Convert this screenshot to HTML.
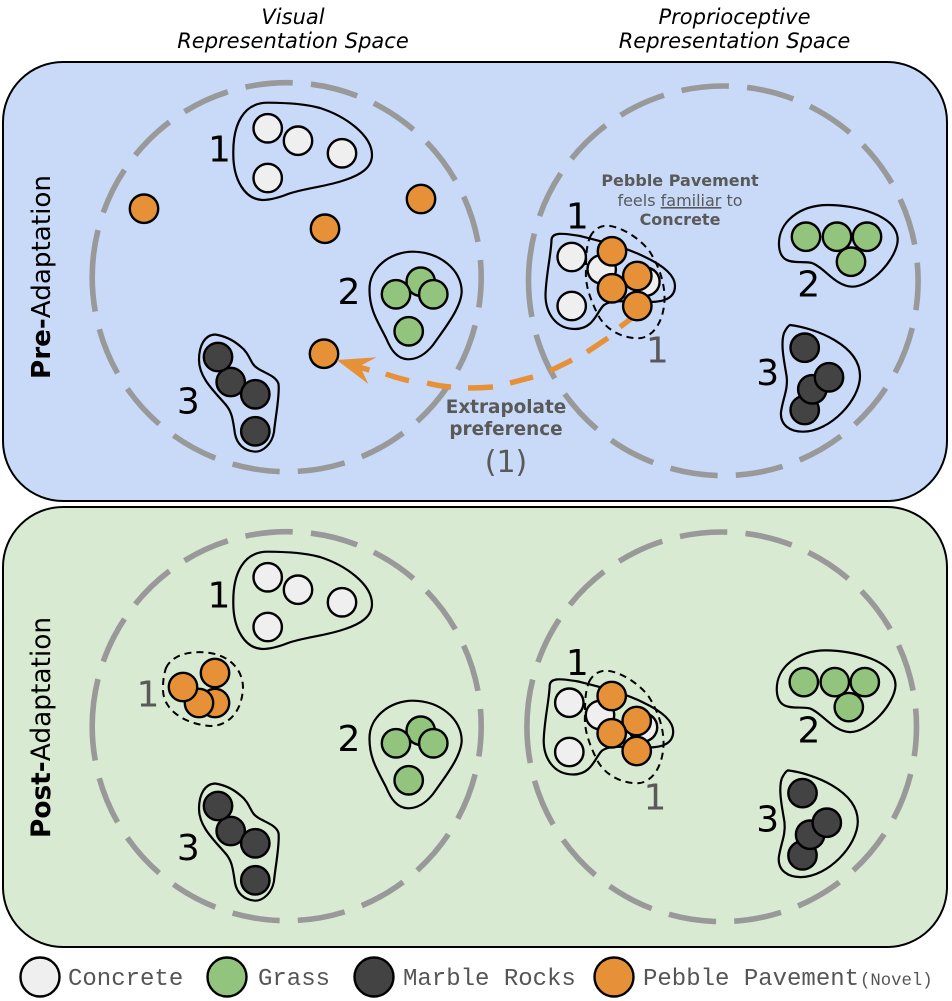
<!DOCTYPE html>
<html>
<head>
<meta charset="utf-8">
<style>
html,body{margin:0;padding:0;background:#fff;}
svg{display:block;}
text{font-family:"DejaVu Sans",sans-serif;}
.n{font-size:36px;text-anchor:middle;fill:#000;}
.g{font-size:36px;text-anchor:middle;fill:#595959;}
.t{font-size:21px;font-style:italic;text-anchor:middle;fill:#000;}
.b{font-size:16px;font-weight:bold;text-anchor:middle;fill:#595959;}
.e{font-size:18.4px;font-weight:bold;text-anchor:middle;fill:#595959;}
.f{font-size:16px;text-anchor:middle;fill:#595959;}
.l{font-family:"Liberation Mono",monospace;font-size:24px;fill:#555;}
.w{fill:#efefef;stroke:#000;stroke-width:2.4;}
.gr{fill:#93c47d;stroke:#000;stroke-width:2.4;}
.d{fill:#434343;stroke:#000;stroke-width:2.4;}
.o{fill:#e69138;stroke:#000;stroke-width:2.4;}
.blob{fill:none;stroke:#000;stroke-width:2.2;}
.dash{fill:none;stroke:#000;stroke-width:2;stroke-dasharray:7 5;}
.ring{fill:none;stroke:#999;stroke-width:5.6;stroke-dasharray:47.7 18.25;}
.ar{stroke:#e69138;stroke-width:5.4;fill:none;}
</style>
</head>
<body>
<svg width="952" height="1001" viewBox="0 0 952 1001" xmlns="http://www.w3.org/2000/svg">
<rect width="952" height="1001" fill="#fff"/>
<rect x="3" y="62" width="944" height="439" rx="60" ry="60" fill="#c9daf8" stroke="#000" stroke-width="2"/>
<rect x="3" y="507" width="944" height="440" rx="60" ry="60" fill="#d9ead3" stroke="#000" stroke-width="2"/>

<text class="t" x="293" y="24">Visual</text>
<text class="t" x="293" y="48">Representation Space</text>
<text class="t" x="734.5" y="24">Proprioceptive</text>
<text class="t" x="734.5" y="48">Representation Space</text>

<text transform="translate(50,379) rotate(-90)" font-size="26.2" fill="#000"><tspan font-weight="bold">Pre-</tspan>Adaptation</text>
<text transform="translate(50,838) rotate(-90)" font-size="26.4" fill="#000"><tspan font-weight="bold">Post-</tspan>Adaptation</text>

<path class="ring" d="M92.2,277.2 A194.5,194.5 0 1 1 481.2,277.2 A194.5,194.5 0 1 1 92.2,277.2"/>
<path class="ring" d="M528.5,280.8 A194.8,194.8 0 1 1 918.1,280.8 A194.8,194.8 0 1 1 528.5,280.8"/>
<path class="ring" d="M92.2,726.2 A194.5,194.5 0 1 1 481.2,726.2 A194.5,194.5 0 1 1 92.2,726.2"/>
<path class="ring" d="M526.9,726.8 A194.8,194.8 0 1 1 916.5,726.8 A194.8,194.8 0 1 1 526.9,726.8"/>

<!-- Top left -->
<path class="blob" d="M233.3,153 C233,125 243,102.5 268,102.7 C290,103 305,104 320,108 C345,116 372,135 372,155 C372,168 360,175 345,180 C325,187 305,188 288,194 C278,198 270,200 262,200 C245,199 233,180 233.3,153 Z"/>
<circle class="w" cx="267.7" cy="128.3" r="14.2"/><circle class="w" cx="298" cy="140.7" r="14.2"/><circle class="w" cx="342" cy="153.3" r="14.2"/><circle class="w" cx="267.7" cy="178" r="14.2"/>
<path class="blob" d="M369.5,290 C369,268 390,251.7 413,251.7 C440,252 461.7,270 461.7,291.7 C461,308 445,328 433,345 C425,355 416,359.3 408,359.3 C397,359 391,350 386,338 C378,322 369.5,310 369.5,290 Z"/>
<circle class="gr" cx="420.7" cy="281.7" r="14.2"/><circle class="gr" cx="396" cy="294.3" r="14.2"/><circle class="gr" cx="433.3" cy="294.3" r="14.2"/><circle class="gr" cx="408.7" cy="331.3" r="14.2"/>
<path class="blob" d="M215,334.5 C225,336 233,340 240,346 C248,352 250,360 253,364 C258,372 276,374 278.5,384 C280,395 275,420 274,432 C272,444 263,451.7 255,451.7 C244,451 237,444 235,434 C233,420 232,412 226,405 C215,392 199,378 199,360 C199,345 205,335 215,334.5 Z"/>
<circle class="d" cx="230.7" cy="382" r="14.2"/><circle class="d" cx="218" cy="357" r="14.2"/><circle class="d" cx="255.3" cy="394.3" r="14.2"/><circle class="d" cx="255.3" cy="431.3" r="14.2"/>
<circle class="o" cx="144" cy="208.7" r="14.2"/><circle class="o" cx="325" cy="228.7" r="14.2"/><circle class="o" cx="421" cy="199" r="14.2"/><circle class="o" cx="324" cy="353.7" r="14.2"/>
<text class="n" x="219.5" y="161.7">1</text>
<text class="n" x="349" y="304">2</text>
<text class="n" x="188.3" y="413.3">3</text>

<!-- Arrow -->
<line class="ar" x1="632" y1="318" x2="620" y2="327"/>
<line class="ar" x1="608" y1="338" x2="587" y2="352"/>
<line class="ar" x1="572" y1="360" x2="550" y2="371"/>
<line class="ar" x1="533" y1="377" x2="510" y2="383"/>
<path class="ar" d="M493,387 Q480,388 468,388"/>
<path class="ar" d="M451,387 Q438,386 427,383"/>
<path class="ar" d="M409,380.7 Q397,378 385.7,374"/>
<line class="ar" x1="355" y1="366" x2="369.5" y2="370"/>
<polygon points="336.7,360 376.7,357.3 360,366 368.3,384" fill="#e69138"/>

<!-- Top right -->
<circle class="w" cx="571.7" cy="257" r="14.2"/><circle class="w" cx="601.7" cy="269.3" r="14.2"/><circle class="w" cx="645.4" cy="281.7" r="14.2"/><circle class="w" cx="571.7" cy="306" r="14.2"/>
<path class="blob" d="M551.5,240 C552,232 562,233 580,236 C600,241 625,247 645,257 C662,265 675,275 675,286 C675,298 664,302 650,302 C630,302 612,299 604,305 C597,311 594,329 575,329 C555,329 545.5,312 545.5,295 C546,275 551,255 551.5,240 Z"/>
<path class="dash" d="M590,237 C594,229 600,225.7 607,225.7 C620,226 640,238 650,252 C660,268 665,285 664.5,300 C664,318 655,338 638,338.3 C622,338 605,330 597,313 C590,298 585,285 586,270 C586,258 586,247 590,237 Z"/>
<circle class="o" cx="612" cy="251.3" r="14.2"/><circle class="o" cx="637.3" cy="276" r="14.2"/><circle class="o" cx="612" cy="288.3" r="14.2"/><circle class="o" cx="637.3" cy="306" r="14.2"/>
<text class="n" x="577.3" y="228.3">1</text>
<text class="g" x="657.3" y="362.3">1</text>
<text class="b" x="680" y="186">Pebble Pavement</text>
<text class="f" x="680" y="206">feels <tspan text-decoration="underline">familiar</tspan> to</text>
<text class="b" x="680" y="225">Concrete</text>
<path class="blob" d="M779,245 C778,222 800,205 828,205 C855,205 897.7,215 897.7,240 C897,258 872,286.7 852,286.7 C835,286 825,268 812,263 C800,260 780,268 779,245 Z"/>
<circle class="gr" cx="806" cy="236.7" r="14.2"/><circle class="gr" cx="867" cy="236.7" r="14.2"/><circle class="gr" cx="837" cy="236.7" r="14.2"/><circle class="gr" cx="851" cy="261.7" r="14.2"/>
<path class="blob" d="M790,325 C815,328 860,345 860,376 C860,400 830,431.7 803,431.7 C790,431.7 780,425 781,412 C783,398 788,390 786.7,377 C785,365 780,345 784,333 C786,329 788,326 790,325 Z"/>
<circle class="d" cx="804.7" cy="347.7" r="14.2"/><circle class="d" cx="804.7" cy="410" r="14.2"/><circle class="d" cx="812.3" cy="389.3" r="14.2"/><circle class="d" cx="829" cy="377.3" r="14.2"/>
<text class="n" x="808.7" y="296.7">2</text>
<text class="n" x="767.7" y="385">3</text>

<text class="e" x="506" y="413">Extrapolate</text>
<text class="e" x="506" y="435">preference</text>
<text class="g" x="506" y="472" style="font-size:30px">(1)</text>

<!-- Bottom left -->
<g transform="translate(0,449)">
<path class="blob" d="M233.3,153 C233,125 243,102.5 268,102.7 C290,103 305,104 320,108 C345,116 372,135 372,155 C372,168 360,175 345,180 C325,187 305,188 288,194 C278,198 270,200 262,200 C245,199 233,180 233.3,153 Z"/>
<circle class="w" cx="267.7" cy="128.3" r="14.2"/><circle class="w" cx="298" cy="140.7" r="14.2"/><circle class="w" cx="342" cy="153.3" r="14.2"/><circle class="w" cx="267.7" cy="178" r="14.2"/>
<path class="blob" d="M369.5,290 C369,268 390,251.7 413,251.7 C440,252 461.7,270 461.7,291.7 C461,308 445,328 433,345 C425,355 416,359.3 408,359.3 C397,359 391,350 386,338 C378,322 369.5,310 369.5,290 Z"/>
<circle class="gr" cx="420.7" cy="281.7" r="14.2"/><circle class="gr" cx="396" cy="294.3" r="14.2"/><circle class="gr" cx="433.3" cy="294.3" r="14.2"/><circle class="gr" cx="408.7" cy="331.3" r="14.2"/>
<path class="blob" d="M215,334.5 C225,336 233,340 240,346 C248,352 250,360 253,364 C258,372 276,374 278.5,384 C280,395 275,420 274,432 C272,444 263,451.7 255,451.7 C244,451 237,444 235,434 C233,420 232,412 226,405 C215,392 199,378 199,360 C199,345 205,335 215,334.5 Z"/>
<circle class="d" cx="230.7" cy="382" r="14.2"/><circle class="d" cx="218" cy="357" r="14.2"/><circle class="d" cx="255.3" cy="394.3" r="14.2"/><circle class="d" cx="255.3" cy="431.3" r="14.2"/>
</g>
<text class="n" x="219" y="607.5">1</text>
<text class="n" x="349" y="751">2</text>
<text class="n" x="188.3" y="860">3</text>
<path class="dash" d="M166,668 C172,655 190,650 210,653 C230,656 243,670 243,688 C242,710 230,726 210,726 C185,724 162,710 163,688 C163,680 164,674 166,668 Z"/>
<circle class="o" cx="215" cy="703" r="14.2"/><circle class="o" cx="199" cy="703" r="14.2"/><circle class="o" cx="215" cy="673" r="14.2"/><circle class="o" cx="183" cy="687" r="14.2"/>
<text class="g" x="148" y="706.7">1</text>

<!-- Bottom right -->
<circle class="w" cx="569.3" cy="702.7" r="14.2"/><circle class="w" cx="600" cy="715" r="14.2"/><circle class="w" cx="643" cy="727.3" r="14.2"/><circle class="w" cx="569.3" cy="752" r="14.2"/>
<path class="blob" transform="translate(-1.8,445.5)" d="M551.5,240 C552,232 562,233 580,236 C600,241 625,247 645,257 C662,265 675,275 675,286 C675,298 664,302 650,302 C630,302 612,299 604,305 C597,311 594,329 575,329 C555,329 545.5,312 545.5,295 C546,275 551,255 551.5,240 Z"/>
<path class="dash" transform="translate(-1,445)" d="M590,237 C594,229 600,225.7 607,225.7 C620,226 640,238 650,252 C660,268 665,285 664.5,300 C664,318 655,338 638,338.3 C622,338 605,330 597,313 C590,298 585,285 586,270 C586,258 586,247 590,237 Z"/>
<circle class="o" cx="611.7" cy="696" r="14.2"/><circle class="o" cx="636.7" cy="721" r="14.2"/><circle class="o" cx="611.7" cy="733.3" r="14.2"/><circle class="o" cx="636.7" cy="751" r="14.2"/>
<text class="n" x="577.3" y="675">1</text>
<text class="g" x="655" y="809.3">1</text>
<g transform="translate(-2.2,445.4)">
<path class="blob" d="M779,245 C778,222 800,205 828,205 C855,205 897.7,215 897.7,240 C897,258 872,286.7 852,286.7 C835,286 825,268 812,263 C800,260 780,268 779,245 Z"/>
<circle class="gr" cx="806" cy="236.7" r="14.2"/><circle class="gr" cx="867" cy="236.7" r="14.2"/><circle class="gr" cx="837" cy="236.7" r="14.2"/><circle class="gr" cx="851" cy="261.7" r="14.2"/>
<path class="blob" d="M790,325 C815,328 860,345 860,376 C860,400 830,431.7 803,431.7 C790,431.7 780,425 781,412 C783,398 788,390 786.7,377 C785,365 780,345 784,333 C786,329 788,326 790,325 Z"/>
<circle class="d" cx="804.7" cy="347.7" r="14.2"/><circle class="d" cx="804.7" cy="410" r="14.2"/><circle class="d" cx="812.3" cy="389.3" r="14.2"/><circle class="d" cx="829" cy="377.3" r="14.2"/>
</g>
<text class="n" x="809" y="742.7">2</text>
<text class="n" x="767.7" y="831.7">3</text>

<!-- Legend -->
<circle cx="40" cy="977" r="19.5" fill="#efefef" stroke="#000" stroke-width="2.4"/>
<text class="l" x="68" y="985">Concrete</text>
<circle cx="227" cy="977" r="19.5" fill="#93c47d" stroke="#000" stroke-width="2.4"/>
<text class="l" x="258" y="985">Grass</text>
<circle cx="374" cy="977" r="19.5" fill="#434343" stroke="#000" stroke-width="2.4"/>
<text class="l" x="403" y="985">Marble Rocks</text>
<circle cx="614" cy="977" r="19.5" fill="#e69138" stroke="#000" stroke-width="2.4"/>
<text class="l" x="643" y="985">Pebble Pavement</text>
<text class="l" x="860" y="985" style="font-size:17.3px">(Novel)</text>
</svg>
</body>
</html>
